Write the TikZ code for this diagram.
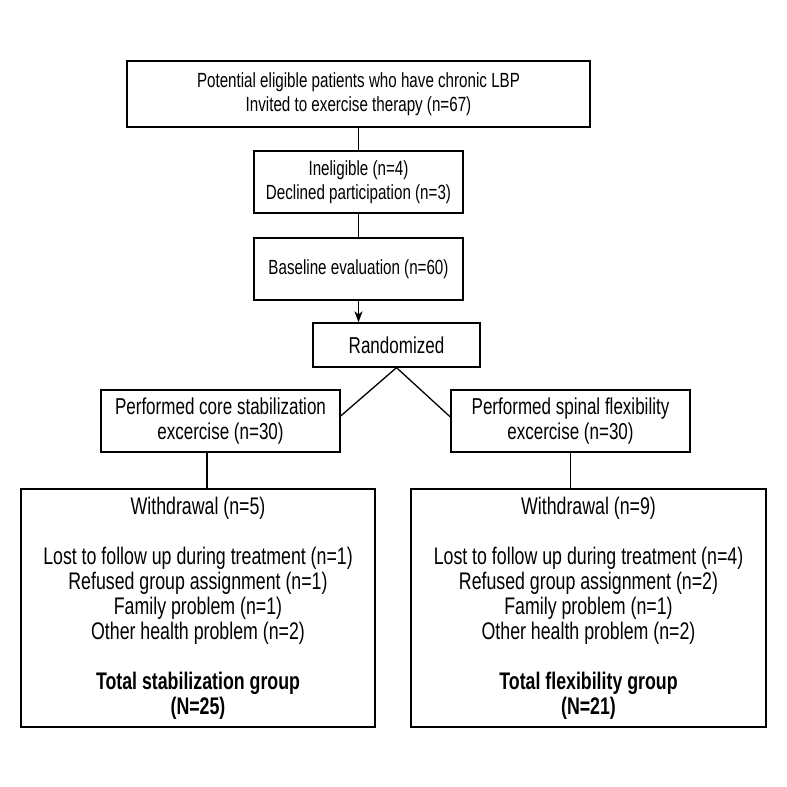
\documentclass[tikz,border=0pt]{standalone}
\usepackage{fontspec}
\setmainfont[FakeStretch=0.74]{Liberation Sans}
\usetikzlibrary{arrows.meta}
\begin{document}
\begin{tikzpicture}[x=1pt,y=-1pt,
  box/.style={draw,line width=1.3pt,rectangle,align=center,inner sep=0pt,
    font=\fontsize{23}{25}\selectfont},
  smallbox/.style={box,font=\fontsize{20.5}{24}\selectfont},
  bigbox/.style={box,font=\fontsize{24}{25}\selectfont},
  conn/.style={line width=1.3pt}]
\useasboundingbox (0,0) rectangle (787,787);
\node[smallbox,minimum width=463pt,minimum height=66pt] (top) at (358.5,94)
  {Potential eligible patients who have chronic LBP\\Invited to exercise therapy (n=67)};
\node[smallbox,minimum width=209pt,minimum height=62pt] (inel) at (358.5,182)
  {Ineligible (n=4)\\Declined participation (n=3)};
\node[smallbox,minimum width=209pt,minimum height=62pt] (base) at (358.5,269)
  {Baseline evaluation (n=60)};
\node[box,minimum width=167pt,minimum height=44pt] (rand) at (396.5,345)
  {Randomized};
\node[box,minimum width=239pt,minimum height=62pt] (perfL) at (220.5,421)
  {Performed core stabilization\\excercise (n=30)};
\node[box,minimum width=239pt,minimum height=62pt] (perfR) at (570.5,421)
  {Performed spinal flexibility\\excercise (n=30)};
\node[bigbox,minimum width=354pt,minimum height=238pt] (botL) at (198,608)
  {Withdrawal (n=5)\\[25pt]
   Lost to follow up during treatment (n=1)\\
   Refused group assignment (n=1)\\
   Family problem (n=1)\\
   Other health problem (n=2)\\[25pt]
   \textbf{Total stabilization group}\\
   \textbf{(N=25)}};
\node[bigbox,minimum width=355pt,minimum height=238pt] (botR) at (588.5,608)
  {Withdrawal (n=9)\\[25pt]
   Lost to follow up during treatment (n=4)\\
   Refused group assignment (n=2)\\
   Family problem (n=1)\\
   Other health problem (n=2)\\[25pt]
   \textbf{Total flexibility group}\\
   \textbf{(N=21)}};
\draw[conn] (top.south) -- (inel.north);
\draw[conn] (inel.south) -- (base.north);
\draw[conn,-{Stealth[length=11pt,width=8pt,inset=3pt]}] (base.south) -- (base.south |- rand.north);
\draw[conn] (rand.south) -- ([yshift=5pt]perfL.east);
\draw[conn] (rand.south) -- ([yshift=4pt]perfR.west);
\draw[conn] ([xshift=-13.5pt]perfL.south) -- ([xshift=-13.5pt]perfL.south |- botL.north);
\draw[conn] (perfR.south) -- (perfR.south |- botR.north);
\end{tikzpicture}
\end{document}
